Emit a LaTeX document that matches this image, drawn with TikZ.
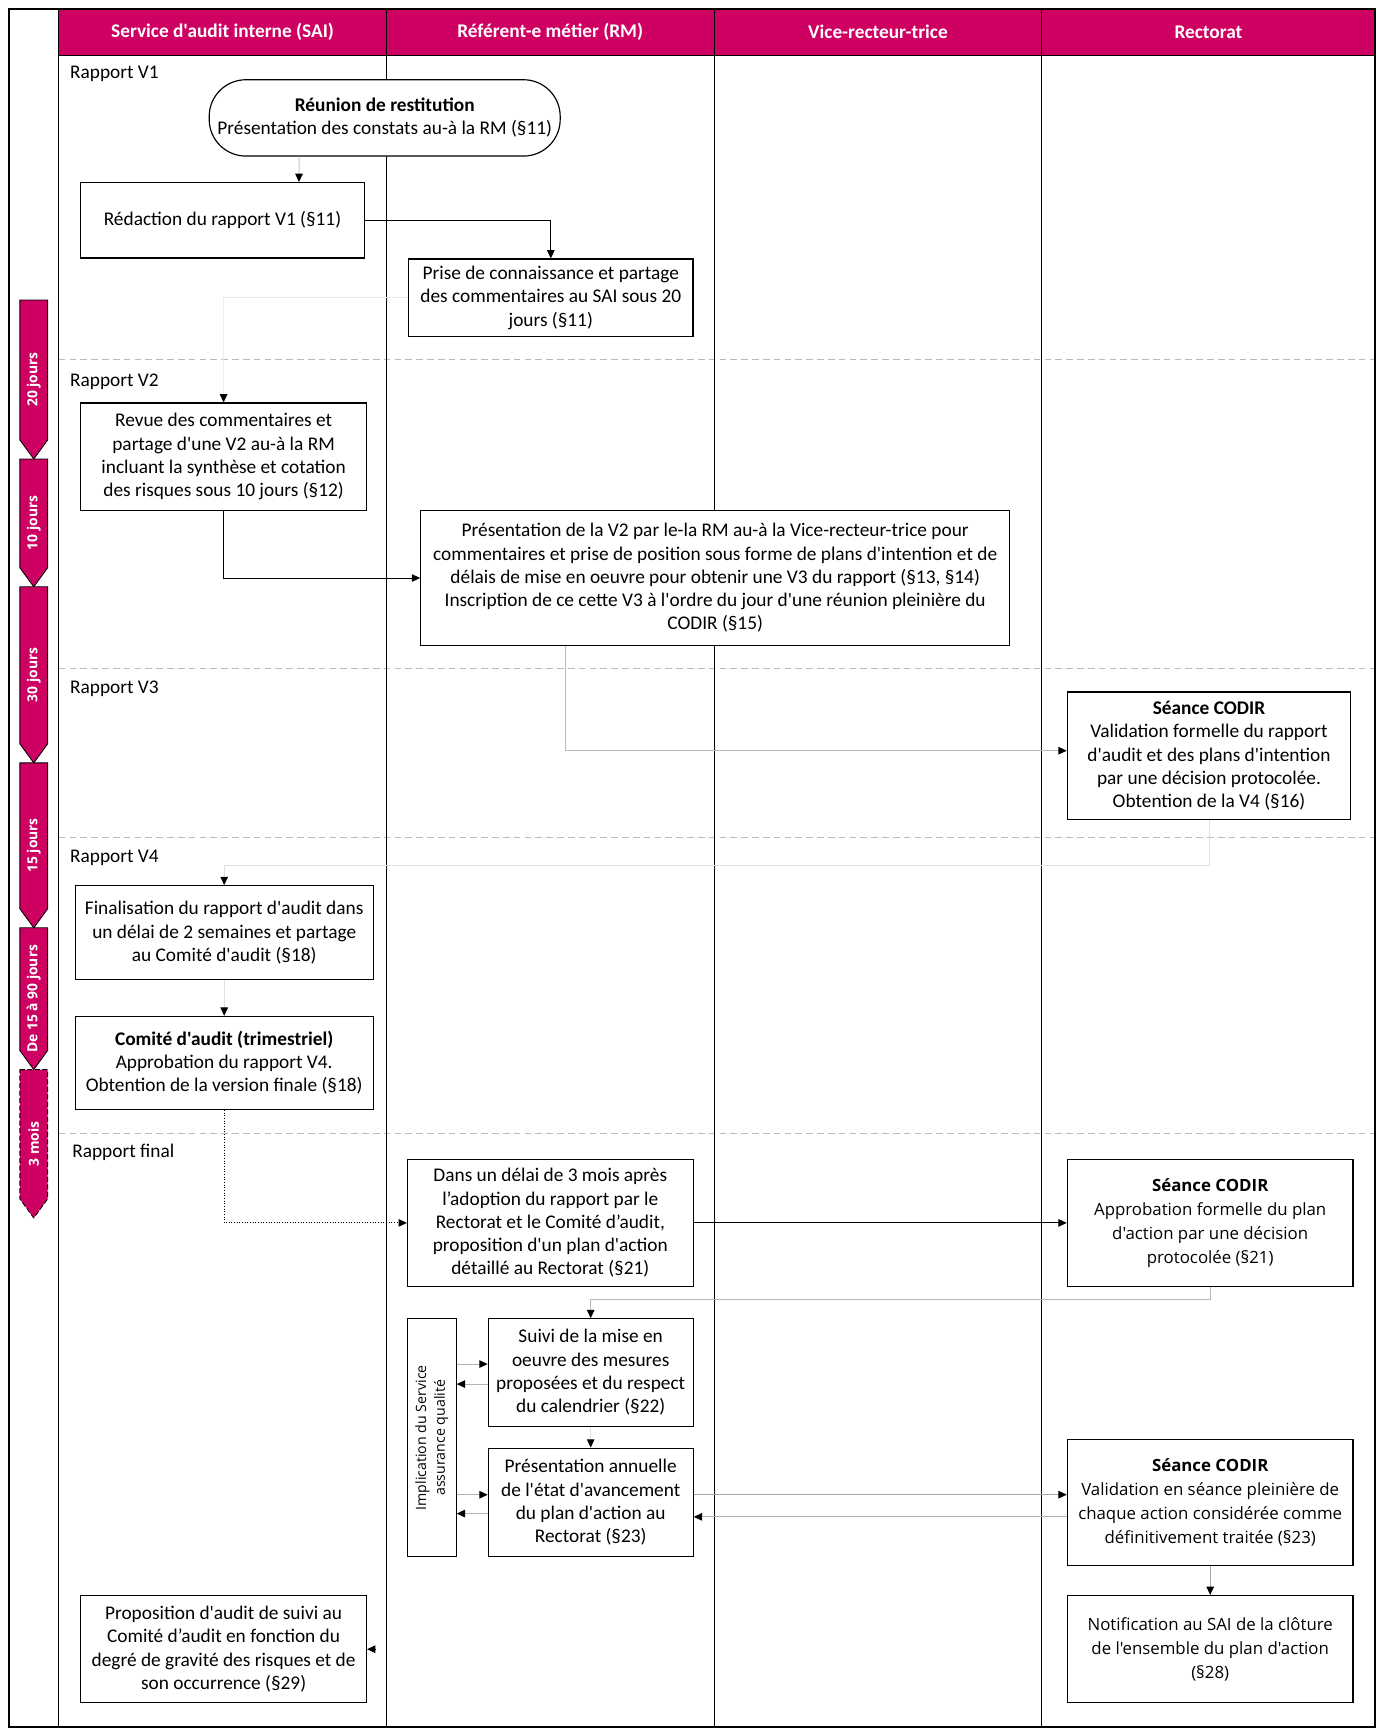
\documentclass[tikz,border=0pt]{standalone}
\usepackage{fontspec}
\setmainfont{Carlito}[Ligatures=TeXOff]
\newfontfamily\widefont{Open Sans}[Ligatures=TeXOff]
\usepackage{xcolor}
\usetikzlibrary{arrows.meta}
\definecolor{unimag}{RGB}{206,0,98}

\begin{document}
\begin{tikzpicture}[x=0.6pt, y=-0.6pt,
  box/.style={draw, fill=white, line width=0.7pt, align=center, inner sep=2pt,
    minimum width=171.4pt, font=\fontsize{11.6}{13.95}\selectfont},
  widebox/.style={box, font=\widefont\fontsize{10.1}{14.3}\selectfont},
  flow/.style={line width=0.6pt, -{Triangle[length=5pt, width=4.5pt, color=black]}},
  lane/.style={text=white, font=\bfseries\fontsize{11.6}{14}\selectfont},
  tag/.style={anchor=west, inner sep=0pt, font=\fontsize{11.6}{14}\selectfont},
  span/.style={rotate=90, text=white, font=\widefont\bfseries\fontsize{8.3}{10}\selectfont}]
  \useasboundingbox (0,0) rectangle (1384,1736);

  % Frame and lanes
  \fill[unimag] (58.7,8.9) rectangle (1375,55.4);
  \foreach \y in {359.8, 668.7, 837, 1133.8}
    \draw[gray!55, line width=0.5pt, dash pattern=on 4pt off 2.5pt] (58.7,\y) -- (1375,\y);
  \foreach \xa/\xb/\name [count=\i] in {58.7/386.4/Service d'audit interne (SAI),
      386.4/714.1/Référent-e métier (RM), 714.1/1041.9/Vice-recteur-trice, 1041.9/1375/Rectorat} {
    \draw[line width=0.6pt] (\xa,8.9) rectangle (\xb,1727);
    \draw[line width=0.8pt] (\xa,55.4) -- (\xb,55.4);
    \node[lane] (head\i) at ({(\xa+\xb)/2},32.1) {\name};
  }
  \draw[line width=0.9pt] (8.9,8.9) rectangle (1375,1727);

  % Timeline
  \foreach \ya/\yb/\txt [count=\i] in {300/459/20 jours, 459/586.8/10 jours, 586.8/762.9/30 jours,
      762.9/927.8/15 jours, 927.8/1069.6/De 15 à 90 jours} {
    \draw[fill=unimag, line width=0.5pt] (19.9,\ya) -- (47.6,\ya) -- (47.6,\yb-19) -- (33.8,\yb) -- (19.9,\yb-19) -- cycle;
    \node[span] (t\i) at (33.8,{(\ya+\yb)/2}) {\txt};
  }
  \draw[fill=unimag, line width=0.5pt, dash pattern=on 3pt off 1.5pt] (19.9,1069.6) -- (47.6,1069.6) -- (47.6,1199) -- (33.8,1218) -- (19.9,1199) -- cycle;
  \node[span] (t6) at (33.8,1143.8) {3 mois};

  % Phases
  \node[tag] (v1) at (69.8,73.5) {Rapport V1};
  \node[tag] (v2) at (69.8,381.3) {Rapport V2};
  \node[tag] (v3) at (69.8,689.1) {Rapport V3};
  \node[tag] (v4) at (69.8,857.4) {Rapport V4};
  \node[tag] (vf) at (72,1151.9) {Rapport final};

  % Nodes
  \node[box, rounded corners=22pt, minimum width=210.6pt, minimum height=45.8pt] (reunion) at (384.7,117.9)
    {\textbf{Réunion de restitution}\\Présentation des constats au-à la RM (§11)};
  \node[box, minimum width=170.1pt, minimum height=45.2pt] (redac) at (222.5,220.3)
    {Rédaction du rapport V1 (§11)};
  \node[box, minimum width=170.7pt, minimum height=46.5pt] (prise) at (550.8,297.8)
    {Prise de connaissance et partage\\des commentaires au SAI sous 20\\jours (§11)};
  \node[box, minimum height=64.4pt] (revue) at (223.6,456.7)
    {Revue des commentaires et\\partage d'une V2 au-à la RM\\incluant la synthèse et cotation\\des risques sous 10 jours (§12)};
  \node[box, minimum width=353.4pt, minimum height=81pt] (presv2) at (715.2,578)
    {Présentation de la V2 par le-la RM au-à la Vice-recteur-trice pour\\commentaires et prise de position sous forme de plans d'intention et de\\délais de mise en oeuvre pour obtenir une V3 du rapport (§13, §14)\\Inscription de ce cette V3 à l'ordre du jour d'une réunion pleinière du\\CODIR (§15)};
  \node[box, minimum width=170pt, minimum height=76.4pt] (codir1) at (1209,755.7)
    {\textbf{Séance CODIR}\\Validation formelle du rapport\\d'audit et des plans d'intention\\par une décision protocolée.\\Obtention de la V4 (§16)};
  \node[box, minimum width=178.7pt, minimum height=56.5pt] (final) at (224.2,932.8)
    {Finalisation du rapport d'audit dans\\un délai de 2 semaines et partage\\au Comité d'audit (§18)};
  \node[box, minimum width=178.7pt, minimum height=55.8pt] (comite) at (224.2,1062.9)
    {\textbf{Comité d'audit (trimestriel)}\\Approbation du rapport V4.\\Obtention de la version finale (§18)};
  \node[box, minimum height=76.4pt] (delai) at (550.3,1222.9)
    {Dans un délai de 3 mois après\\l’adoption du rapport par le\\Rectorat et le Comité d’audit,\\proposition d'un plan d'action\\détaillé au Rectorat (§21)};
  \node[widebox, minimum height=76.4pt] (codir2) at (1210.2,1222.9)
    {\textbf{Séance CODIR}\\Approbation formelle du plan\\d'action par une décision\\protocolée (§21)};
  \node[box, minimum width=29.2pt, minimum height=142.8pt] (impl) at (431.8,1437.7) {};
  \node[rotate=90, align=center, font=\widefont\fontsize{8.5}{11.3}\selectfont] (impltxt) at (impl.center)
    {Implication du Service\\assurance qualité};
  \node[box, minimum width=122.9pt, minimum height=64.4pt] (suivi) at (590.7,1372.4)
    {Suivi de la mise en\\oeuvre des mesures\\proposées et du respect\\du calendrier (§22)};
  \node[box, minimum width=122.9pt, minimum height=65.1pt] (annuel) at (590.7,1502.4)
    {Présentation annuelle\\de l'état d'avancement\\du plan d'action au\\Rectorat (§23)};
  \node[widebox, minimum height=75.7pt] (codir3) at (1210.2,1502.5)
    {\textbf{Séance CODIR}\\Validation en séance pleinière de\\chaque action considérée comme\\définitivement traitée (§23)};
  \node[widebox, minimum height=64.4pt] (notif) at (1210.2,1649.2)
    {Notification au SAI de la clôture\\de l'ensemble du plan d'action\\(§28)};
  \node[box, minimum height=64.4pt] (propos) at (223.6,1649.2)
    {Proposition d'audit de suivi au\\Comité d’audit en fonction du\\degré de gravité des risques et de\\son occurrence (§29)};

  % Edges
  \coordinate (c0) at ([yshift=3pt]codir1.west);
  \coordinate (s1) at ([yshift=5pt]suivi.west);
  \coordinate (s2) at ([yshift=-7pt]suivi.west);
  \coordinate (a1) at ([yshift=4.6pt]annuel.west);
  \coordinate (a2) at ([yshift=-6.7pt]annuel.west);
  \coordinate (c1) at ([yshift=4.7pt]codir3.west);
  \coordinate (c2) at ([yshift=-8.6pt]codir3.west);
  \coordinate (back) at ([xshift=5pt]propos.east);
  \draw[flow, gray!45] ([xshift=-51.4pt]reunion.south) -- ([xshift=45.9pt]redac.north);
  \draw[flow] (redac.east) -| (prise.north);
  \draw[flow, gray!15] (prise.west) -| (revue.north);
  \draw[flow] (revue.south) |- (presv2.west);
  \draw[flow, gray!55] ([xshift=-89.6pt]presv2.south) |- (c0);
  \draw[flow, gray!25] (codir1.south) -- ++(0,45.4) -| (final.north);
  \draw[flow, gray!25] (final.south) -- (comite.north);
  \draw[flow, densely dotted] (comite.south) |- (delai.west);
  \draw[flow] (delai.east) -- (codir2.west);
  \draw[flow, gray!55] (codir2.south) -- ++(0,12.1) -| (suivi.north);
  \draw[flow, gray!25] (suivi.south) -- (annuel.north);
  \draw[flow, gray!60] (impl.east |- s1) -- (s1);
  \draw[flow, gray!60] (s2) -- (impl.east |- s2);
  \draw[flow, gray!60] (impl.east |- a1) -- (a1);
  \draw[flow, gray!60] (a2) -- (impl.east |- a2);
  \draw[flow, gray!70] (annuel.east |- c1) -- (c1);
  \draw[flow, gray!60] (c2) -- (annuel.east |- c2);
  \draw[flow, gray!70] (codir3.south) -- (notif.north);
  \draw[flow] (back) -- (propos.east);
\end{tikzpicture}
\end{document}
